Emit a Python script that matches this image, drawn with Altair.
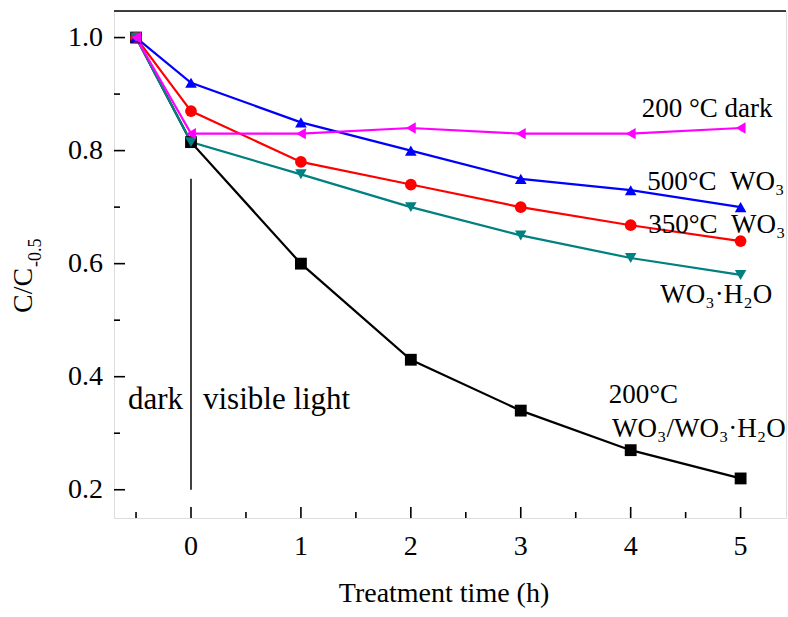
import altair as alt
import pandas as pd

# ---- data ----
times = [-0.5, 0, 1, 2, 3, 4, 5]
series_names = ["200C WO3/WO3·H2O", "350C WO3", "500C WO3", "WO3·H2O", "200C dark"]
s200_mix = [1.0, 0.815, 0.60, 0.43, 0.34, 0.27, 0.22]
s350 = [1.0, 0.87, 0.78, 0.74, 0.70, 0.668, 0.64]
s500 = [1.0, 0.92, 0.85, 0.80, 0.75, 0.73, 0.70]
s_h2o = [1.0, 0.815, 0.758, 0.70, 0.65, 0.61, 0.58]
s_dark = [1.0, 0.83, 0.83, 0.84, 0.83, 0.83, 0.84]
series_colors = ["#000000", "#FF0000", "#0000FF", "#008080", "#FF00FF"]
series_shapes = ["square", "circle", "triangle-up", "triangle-down", "triangle-left"]
series_sizes = [140, 130, 250, 250, 240]

x_major = [0, 1, 2, 3, 4, 5]
x_minor = [-0.5, 0.5, 1.5, 2.5, 3.5, 4.5]
y_major = [0.2, 0.4, 0.6, 0.8, 1.0]
y_minor = [0.3, 0.5, 0.7, 0.9]

divider_x = [0.0]
divider_y0 = [0.2]
divider_y1 = [0.75]

ann_text = ["200 °C dark", "500°C\u00a0\u00a0WO₃", "350°C\u00a0\u00a0WO₃", "WO₃·H₂O", "200°C",
            "WO₃/WO₃·H₂O"]
ann_x = [4.10, 4.15, 4.16, 4.27, 3.80, 3.83]
ann_y = [0.860, 0.731, 0.655, 0.531, 0.354, 0.294]

region_text = ["dark", "visible light"]
region_x = [-0.573, 0.109]
region_y = [0.343, 0.343]

x_title = "Treatment time (h)"

# ---- tables ----
rows = []
for name, vals in zip(series_names, [s200_mix, s350, s500, s_h2o, s_dark]):
    for t, v in zip(times, vals):
        rows.append({"series": name, "t": t, "c": v})
df = pd.DataFrame(rows)

FONT = "Liberation Serif"
W, H = 672, 507
xscale = alt.Scale(domain=[-0.7005, 5.413], nice=False, zero=False)
yscale = alt.Scale(domain=[0.15, 1.047], nice=False, zero=False)
color = alt.Color("series:N", scale=alt.Scale(domain=series_names, range=series_colors), legend=None)
shape = alt.Shape("series:N", scale=alt.Scale(domain=series_names, range=series_shapes), legend=None)
size = alt.Size("series:N", scale=alt.Scale(domain=series_names, range=series_sizes), legend=None)

x_axis = alt.Axis(values=x_major, ticks=False, labels=False, grid=False, title=None,
                  domainColor="black", domainWidth=1.6)
y_axis = alt.Axis(values=y_major, ticks=False, labels=False, grid=False, title=None,
                  domainColor="black", domainWidth=1.6)

lines = alt.Chart(df).mark_line(strokeWidth=2.2).encode(
    x=alt.X("t:Q", scale=xscale, axis=x_axis),
    y=alt.Y("c:Q", scale=yscale, axis=y_axis),
    color=color,
    detail="series:N",
)

points = alt.Chart(df).mark_point(filled=True, opacity=1).encode(
    x=alt.X("t:Q", scale=xscale, axis=None),
    y=alt.Y("c:Q", scale=yscale, axis=None),
    color=color,
    shape=shape,
    size=size,
)

# inward ticks
xmaj = alt.Chart(pd.DataFrame({"v": x_major})).mark_rule(color="black", strokeWidth=1.6).encode(
    x=alt.X("v:Q", scale=xscale, axis=None), y=alt.value(H), y2=alt.value(H - 11))
xmin = alt.Chart(pd.DataFrame({"v": x_minor})).mark_rule(color="black", strokeWidth=1.6).encode(
    x=alt.X("v:Q", scale=xscale, axis=None), y=alt.value(H), y2=alt.value(H - 6))
ymaj = alt.Chart(pd.DataFrame({"v": y_major})).mark_rule(color="black", strokeWidth=1.6).encode(
    y=alt.Y("v:Q", scale=yscale, axis=None), x=alt.value(0), x2=alt.value(11))
ymin = alt.Chart(pd.DataFrame({"v": y_minor})).mark_rule(color="black", strokeWidth=1.6).encode(
    y=alt.Y("v:Q", scale=yscale, axis=None), x=alt.value(0), x2=alt.value(6))

# tick labels placed through the scales
xlab = alt.Chart(pd.DataFrame({"v": x_major})).mark_text(
    font=FONT, fontSize=28, align="center", baseline="alphabetic", color="black").encode(
    x=alt.X("v:Q", scale=xscale, axis=None), y=alt.value(H + 37),
    text=alt.Text("v:Q", format="d"))
ylab = alt.Chart(pd.DataFrame({"v": y_major})).mark_text(
    font=FONT, fontSize=28, align="right", baseline="middle", color="black").encode(
    y=alt.Y("v:Q", scale=yscale, axis=None), x=alt.value(-11),
    text=alt.Text("v:Q", format=".1f"))

xtitle = alt.Chart(pd.DataFrame({"t": [x_title]})).mark_text(
    font=FONT, fontSize=28, align="center", baseline="alphabetic", color="black").encode(
    x=alt.value(330), y=alt.value(591), text="t:N")

top_frame = alt.Chart(pd.DataFrame({"a": [0]})).mark_rule(color="black", strokeWidth=1.6).encode(
    x=alt.value(0), x2=alt.value(W), y=alt.value(0))

divider = alt.Chart(pd.DataFrame({"x": divider_x, "y0": divider_y0, "y1": divider_y1})).mark_rule(
    color="black", strokeWidth=1.5).encode(
    x=alt.X("x:Q", scale=xscale, axis=None),
    y=alt.Y("y0:Q", scale=yscale, axis=None),
    y2="y1:Q")

ann = alt.Chart(pd.DataFrame({"text": ann_text, "x": ann_x, "y": ann_y})).mark_text(
    font=FONT, fontSize=27, align="left", baseline="alphabetic", color="black").encode(
    x=alt.X("x:Q", scale=xscale, axis=None),
    y=alt.Y("y:Q", scale=yscale, axis=None),
    text="text:N")

region = alt.Chart(pd.DataFrame({"text": region_text, "x": region_x, "y": region_y})).mark_text(
    font=FONT, fontSize=31, align="left", baseline="alphabetic", color="black").encode(
    x=alt.X("x:Q", scale=xscale, axis=None),
    y=alt.Y("y:Q", scale=yscale, axis=None),
    text="text:N")

ytitle_main = alt.Chart(pd.DataFrame({"t": ["C/C"]})).mark_text(
    font=FONT, fontSize=28, align="left", baseline="alphabetic", angle=270, color="black").encode(
    x=alt.value(32 - 114), y=alt.value(313 - 11), text="t:N")
ytitle_sub = alt.Chart(pd.DataFrame({"t": ["-0.5"]})).mark_text(
    font=FONT, fontSize=18, align="left", baseline="alphabetic", angle=270, color="black").encode(
    x=alt.value(41 - 114), y=alt.value(267 - 11), text="t:N")

chart = alt.layer(
    lines, divider, xmaj, xmin, ymaj, ymin, top_frame, points, ann, region,
    xlab, ylab, xtitle, ytitle_main, ytitle_sub
).properties(
    width=W, height=H,
    autosize=alt.AutoSizeParams(type="none"),
    padding={"left": 114, "top": 11, "right": 2, "bottom": 95},
).configure_view(strokeWidth=0).configure(background="white")

chart.save("out.html", embed_options={"renderer": "svg", "actions": False})
